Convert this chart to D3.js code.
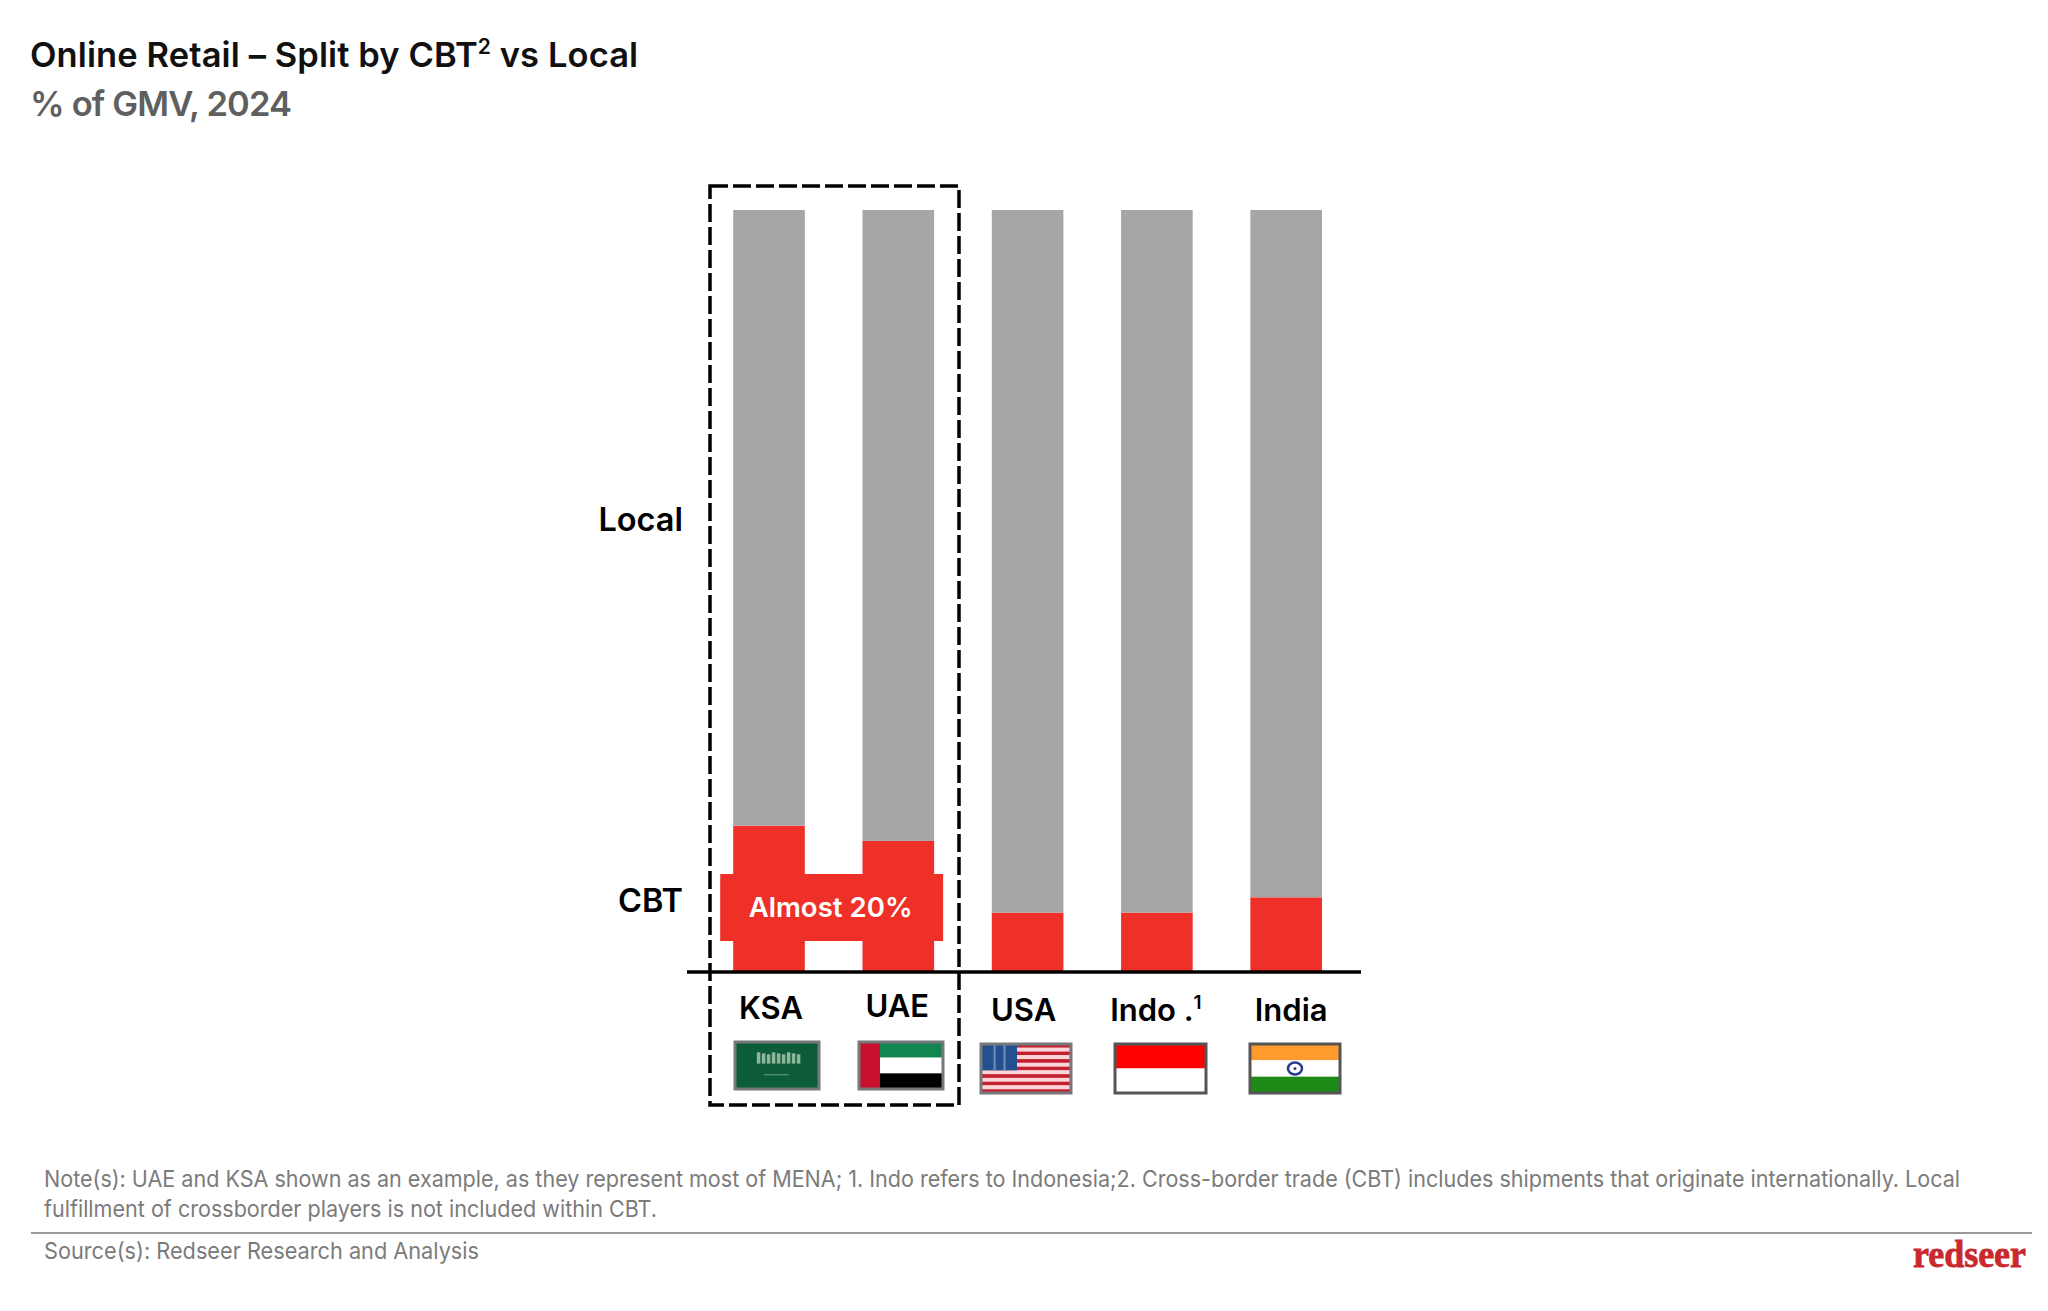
<!DOCTYPE html>
<html>
<head>
<meta charset="utf-8">
<script src="https://cdn.jsdelivr.net/npm/d3@7/dist/d3.min.js"></script>
<style>
  html, body { margin: 0; padding: 0; background: #fff; }
  svg { display: block; }
  text { font-family: Inter, "Noto Sans", sans-serif; }
</style>
</head>
<body>
<svg></svg>
<script>
// chart values
let categories = ['KSA', 'UAE', 'USA', 'Indo .', 'India'];
let cbt = [19.2, 17.2, 7.8, 7.8, 9.8];
let local = [80.8, 82.8, 92.2, 92.2, 90.2];
let seriesNames = ['CBT', 'Local'];
let callout = 'Almost 20%';
let noteLines = [
  'Note(s): UAE and KSA shown as an example, as they represent most of MENA; 1. Indo refers to Indonesia;2. Cross-border trade (CBT) includes shipments that originate internationally. Local',
  'fulfillment of crossborder players is not included within CBT.'
];
let sourceLine = 'Source(s): Redseer Research and Analysis';

// configuration of svg/plot area
let config = { svg: {}, plot: {} };
config.svg.width = 2048;
config.svg.height = 1311;
config.plot.left = 733.2;
config.plot.right = 1322;
config.plot.top = 210;
config.plot.bottom = 972;

let colors = { local: '#a6a6a6', cbt: '#ee3028', ink: '#000000', title: '#111111', sub: '#5f5f5f', note: '#7b7b7b' };

let svg = d3.select('svg')
  .attr('width', config.svg.width)
  .attr('height', config.svg.height)
  .attr('viewBox', [0, 0, config.svg.width, config.svg.height]);

let x = d3.scaleBand().domain(categories).range([config.plot.left, config.plot.right]).paddingInner(0.446).paddingOuter(0);
let y = d3.scaleLinear().domain([0, 100]).range([config.plot.bottom, config.plot.top]);

// title
let title = svg.append('text').attr('x', 30).attr('y', 67).attr('font-size', 34.5).attr('font-weight', 600).attr('fill', colors.title).attr('letter-spacing', 0.1);
title.append('tspan').text('Online Retail – Split by CBT');
title.append('tspan').text('2').attr('font-size', 21).attr('dy', -13);
title.append('tspan').text(' vs Local').attr('dy', 13);
svg.append('text').attr('x', 30).attr('y', 116).attr('font-size', 34.5).attr('font-weight', 600).attr('fill', colors.sub).attr('letter-spacing', -0.85).text('% of GMV, 2024');

// stacked bars
let rows = categories.map((c, i) => ({ name: c, cbt: cbt[i], local: local[i] }));
let stacked = d3.stack().keys(['cbt', 'local'])(rows);
let bars = svg.append('g');
bars.selectAll('g').data(stacked).join('g')
  .attr('fill', d => colors[d.key])
  .selectAll('rect').data(d => d).join('rect')
  .attr('x', d => x(d.data.name))
  .attr('width', x.bandwidth())
  .attr('y', d => y(d[1]))
  .attr('height', d => y(d[0]) - y(d[1]));

// callout across KSA and UAE
let calloutX = x('KSA') - 13;
let calloutW = x('UAE') + x.bandwidth() + 9 - calloutX;
svg.append('rect').attr('x', calloutX).attr('y', 874).attr('width', calloutW).attr('height', 67).attr('fill', colors.cbt);
svg.append('text').attr('x', calloutX + calloutW / 2 - 1).attr('y', 917).attr('text-anchor', 'middle')
  .attr('font-size', 27.6).attr('font-weight', 600).attr('fill', '#fff').text(callout);

// baseline
svg.append('line').attr('x1', 687).attr('x2', 1361).attr('y1', y(0)).attr('y2', y(0)).attr('stroke', colors.ink).attr('stroke-width', 3.5);

// dashed box round KSA and UAE
svg.append('rect').attr('x', 710).attr('y', 186).attr('width', 249).attr('height', 919)
  .attr('fill', 'none').attr('stroke', colors.ink).attr('stroke-width', 3.5).attr('stroke-dasharray', '18 5');

// series labels, placed beside the part of the bars they name
let seriesLabelY = { 'CBT': 912, 'Local': 531 };
seriesNames.forEach(name => {
  svg.append('text').attr('x', 683).attr('y', seriesLabelY[name]).attr('text-anchor', 'end')
    .attr('font-size', 32.5).attr('font-weight', 600).attr('fill', colors.ink).text(name);
});

// category labels, the two boxed ones sit slightly higher
let labelShift = { 'KSA': [2, 1019], 'UAE': [-1, 1017], 'USA': [-4, 1021], 'Indo .': [-1, 1021], 'India': [5, 1021] };
categories.forEach(c => {
  let t = svg.append('text').attr('x', x(c) + x.bandwidth() / 2 + labelShift[c][0]).attr('y', labelShift[c][1])
    .attr('text-anchor', 'middle').attr('font-size', 31).attr('font-weight', 600).attr('fill', colors.ink);
  t.append('tspan').text(c);
  if (c === 'Indo .') t.append('tspan').text('1').attr('font-size', 19).attr('dy', -12);
});

// flags
let flagBox = {
  'KSA': [735, 1042, 84, 47], 'UAE': [859, 1042, 84, 47], 'USA': [981, 1044, 90, 49],
  'Indo .': [1115, 1044, 91, 49], 'India': [1250, 1044, 90, 49]
};
function band(g, w, h, fy0, fy1, fill) {
  g.append('rect').attr('x', 0).attr('y', fy0 * h).attr('width', w).attr('height', (fy1 - fy0) * h).attr('fill', fill);
}
let flagDraw = {
  'KSA': (g, w, h) => {
    band(g, w, h, 0, 1, '#0c5c37');
    d3.range(0, 9).forEach(i => {
      g.append('rect').attr('x', w * 0.26 + i * 5).attr('y', h * 0.22 + (i % 3)).attr('width', 3.5).attr('height', h * 0.24 - (i % 3)).attr('fill', '#8fb59c');
    });
    g.append('rect').attr('x', w * 0.34).attr('y', h * 0.68).attr('width', w * 0.3).attr('height', 1.5).attr('fill', '#4f8a68');
  },
  'UAE': (g, w, h) => {
    band(g, w, h, 0, 1 / 3, '#118651');
    band(g, w, h, 1 / 3, 2 / 3, '#ffffff');
    band(g, w, h, 2 / 3, 1, '#000000');
    g.append('rect').attr('width', w * 0.25).attr('height', h).attr('fill', '#c8102e');
  },
  'USA': (g, w, h) => {
    d3.range(0, 13).forEach(i => band(g, w, h, i / 13, (i + 1) / 13, i % 2 ? '#fbd5d8' : '#c4202f'));
    g.append('rect').attr('width', w * 0.4).attr('height', h * 7 / 13).attr('fill', '#24508f');
    [0.14, 0.25].forEach(f => {
      g.append('rect').attr('x', w * f).attr('width', 2).attr('height', h * 7 / 13).attr('fill', '#6f8fbb');
    });
  },
  'Indo .': (g, w, h) => {
    band(g, w, h, 0, 0.5, '#ff0000');
    band(g, w, h, 0.5, 1, '#ffffff');
  },
  'India': (g, w, h) => {
    band(g, w, h, 0, 1 / 3, '#ff9a2e');
    band(g, w, h, 1 / 3, 2 / 3, '#ffffff');
    band(g, w, h, 2 / 3, 1, '#1e8a16');
    g.append('ellipse').attr('cx', w / 2).attr('cy', h / 2).attr('rx', 7).attr('ry', 6).attr('fill', 'none').attr('stroke', '#2b3a8f').attr('stroke-width', 2.5);
    g.append('circle').attr('cx', w / 2).attr('cy', h / 2).attr('r', 1.5).attr('fill', '#2b3a8f');
  }
};
categories.forEach(c => {
  let b = flagBox[c];
  let g = svg.append('g').attr('transform', `translate(${b[0]},${b[1]})`);
  flagDraw[c](g, b[2], b[3]);
  g.append('rect').attr('width', b[2]).attr('height', b[3]).attr('fill', 'none')
    .attr('stroke', c === 'Indo .' || c === 'India' ? '#555555' : '#75797c').attr('stroke-width', 3);
});

// footer
noteLines.forEach((line, i) => {
  svg.append('text').attr('x', 44).attr('y', 1187 + i * 30).attr('font-size', 23).attr('fill', colors.note).text(line)
    .attr('textLength', i === 0 ? 1916 : 613).attr('lengthAdjust', 'spacingAndGlyphs');
});
svg.append('line').attr('x1', 31).attr('x2', 2032).attr('y1', 1233).attr('y2', 1233).attr('stroke', '#9a9a9a').attr('stroke-width', 2);
svg.append('text').attr('x', 44).attr('y', 1259).attr('font-size', 23).attr('fill', colors.note).text(sourceLine)
  .attr('textLength', 435).attr('lengthAdjust', 'spacingAndGlyphs');
svg.append('text').attr('x', 1913).attr('y', 1267).attr('font-size', 37).attr('font-weight', 700)
  .style('font-family', '"Liberation Serif", serif').attr('fill', '#c8282e').attr('stroke', '#c8282e').attr('stroke-width', 0.8).text('redseer')
  .attr('textLength', 113).attr('lengthAdjust', 'spacingAndGlyphs');
</script>
</body>
</html>
